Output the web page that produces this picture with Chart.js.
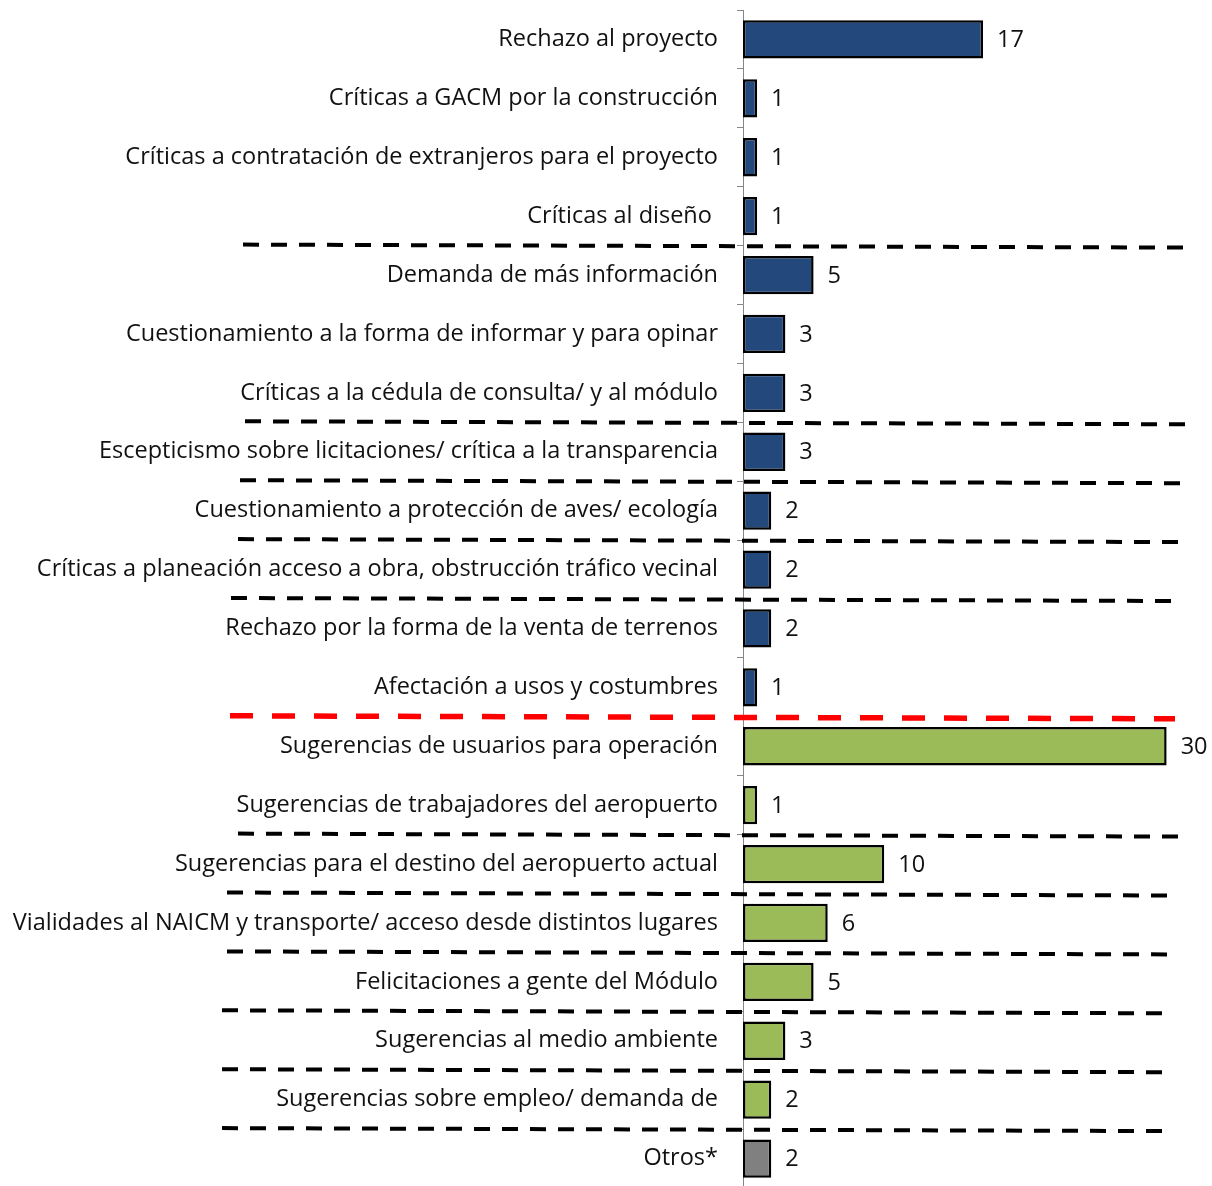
<!DOCTYPE html>
<html lang="es">
<head>
<meta charset="utf-8">
<title>Comentarios por tema</title>
<script src="https://cdn.jsdelivr.net/npm/chart.js@4.4.0/dist/chart.umd.min.js"></script>
<style>
    html, body { margin: 0; padding: 0; background: #fff; overflow: hidden; }
    #chart { display: block; }
</style>
</head>
<body>
<canvas id="chart" width="1212" height="1190"></canvas>
<script>
// Temas y número de menciones
const categories = [
    'Rechazo al proyecto',
    'Críticas a GACM por la construcción',
    'Críticas a contratación de extranjeros para el proyecto',
    'Críticas al diseño ',
    'Demanda de más información',
    'Cuestionamiento a la forma de informar y para opinar',
    'Críticas a la cédula de consulta/ y al módulo',
    'Escepticismo sobre licitaciones/ crítica a la transparencia',
    'Cuestionamiento a protección de aves/ ecología',
    'Críticas a planeación acceso a obra, obstrucción tráfico vecinal',
    'Rechazo por la forma de la venta de terrenos',
    'Afectación a usos y costumbres',
    'Sugerencias de usuarios para operación',
    'Sugerencias de trabajadores del aeropuerto',
    'Sugerencias para el destino del aeropuerto actual',
    'Vialidades al NAICM y transporte/ acceso desde distintos lugares',
    'Felicitaciones a gente del Módulo',
    'Sugerencias al medio ambiente',
    'Sugerencias sobre empleo/ demanda de',
    'Otros*'
];
const counts = [17, 1, 1, 1, 5, 3, 3, 3, 2, 2, 2, 1, 30, 1, 10, 6, 5, 3, 2, 2];
const groups = [
    'critica', 'critica', 'critica', 'critica', 'critica', 'critica',
    'critica', 'critica', 'critica', 'critica', 'critica', 'critica',
    'sugerencia', 'sugerencia', 'sugerencia', 'sugerencia', 'sugerencia',
    'sugerencia', 'sugerencia', 'otros'
];
// separadores: índice del tema tras el cual va la línea
const separatorsAfter = [3, 6, 7, 8, 9, 11, 13, 14, 15, 16, 17, 18];
const majorSeparator = 11;

const groupColors = { critica: '#23497C', sugerencia: '#9BBB59', otros: '#808080' };
const FONT = '"Open Sans", Lato, sans-serif';
const FONT_SIZE = 23.5;

// extremos horizontales de cada línea punteada (px)
const sepExtent = {
    3: [243, 1183], 6: [245, 1185], 7: [240, 1182], 8: [238, 1178], 9: [231, 1172],
    11: [230, 1175], 13: [238, 1178], 14: [227, 1167], 15: [227, 1167],
    16: [222, 1163], 17: [222, 1163], 18: [222, 1163]
};

const valueLabels = {
    id: 'valueLabels',
    afterDatasetsDraw(chart) {
        const ctx = chart.ctx;
        const meta = chart.getDatasetMeta(0);
        ctx.save();
        ctx.font = FONT_SIZE + 'px ' + FONT;
        ctx.fillStyle = '#111';
        ctx.textAlign = 'left';
        ctx.textBaseline = 'middle';
        meta.data.forEach((bar, i) => {
            ctx.fillText(String(counts[i]), bar.x + 14, bar.y + 1);
        });
        ctx.restore();
    }
};

const separators = {
    id: 'separators',
    afterDraw(chart) {
        const ctx = chart.ctx;
        const y = chart.scales.y;
        ctx.save();
        separatorsAfter.forEach(idx => {
            const yy = (y.getPixelForValue(idx) + y.getPixelForValue(idx + 1)) / 2;
            const [x0, x1] = sepExtent[idx];
            ctx.beginPath();
            if (idx === majorSeparator) {
                ctx.strokeStyle = '#FF0000';
                ctx.lineWidth = 5.5;
                ctx.setLineDash([23, 19]);
            } else {
                ctx.strokeStyle = '#000';
                ctx.lineWidth = 4;
                ctx.setLineDash([16, 12]);
            }
            ctx.moveTo(x0, yy - 1);
            ctx.lineTo(x1, yy + 2);
            ctx.stroke();
        });
        ctx.restore();
    }
};

new Chart(document.getElementById('chart'), {
    type: 'bar',
    data: {
        labels: categories,
        datasets: [{
            data: counts,
            backgroundColor: groups.map(g => groupColors[g]),
            borderColor: '#000',
            borderWidth: 2.5,
            borderSkipped: false,
            barPercentage: 0.65,
            categoryPercentage: 1
        }]
    },
    options: {
        indexAxis: 'y',
        responsive: false,
        animation: false,
        layout: { padding: { top: 10, right: 3, bottom: 2, left: 0 } },
        plugins: {
            legend: { display: false },
            tooltip: { enabled: false }
        },
        scales: {
            x: {
                display: false,
                min: 0,
                max: 33
            },
            y: {
                afterFit(scale) {
                    // eje fijo en x = 743, sin relleno extra arriba/abajo
                    scale.width = 743;
                    scale.paddingTop = 0;
                    scale.paddingBottom = 0;
                },
                grid: {
                    drawOnChartArea: false,
                    drawTicks: true,
                    tickLength: 6,
                    color: '#868686',
                    offset: true
                },
                border: { display: true, color: '#868686', width: 1 },
                ticks: {
                    padding: 19,
                    color: '#111',
                    font: { family: FONT, size: FONT_SIZE }
                }
            }
        }
    },
    plugins: [valueLabels, separators]
});
</script>
</body>
</html>
